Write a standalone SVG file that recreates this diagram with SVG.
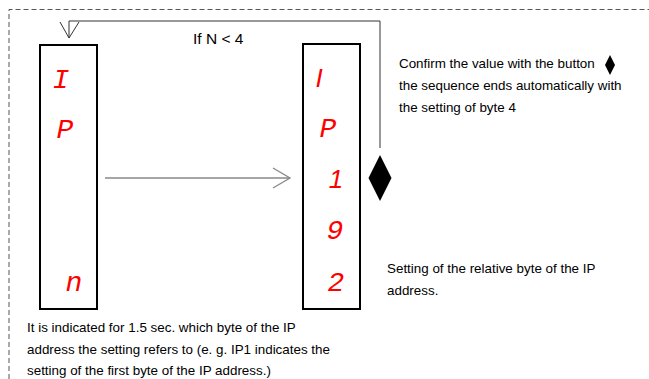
<svg xmlns="http://www.w3.org/2000/svg" width="649" height="379" viewBox="0 0 649 379">
<style>
.box{fill:none;stroke:#000;stroke-width:2}
.seg{fill:#ff0000;font-family:"Liberation Mono",monospace;font-style:italic;font-size:28px;text-anchor:middle}
.sans{font-family:"Liberation Sans",Arial,sans-serif;font-size:26px}
.txt{fill:#000;font-family:"Liberation Sans",Arial,sans-serif;font-size:13.4px}
.ln{fill:none;stroke:#333;stroke-width:1}
.arr{fill:none;stroke:#888;stroke-width:1.3}
</style>
<rect width="649" height="379" fill="#fff"/>
<path d="M9,379 V9.5 H649" fill="none" stroke="#555" stroke-width="1" stroke-dasharray="5,3"/>
<g id="connectors">
<polyline class="ln" points="380,148 380,21 69,21 69,38"/>
<polyline class="ln" points="60,22 69,38 79,22"/>
<line class="arr" x1="105" y1="178" x2="290" y2="178"/>
<polyline class="arr" points="273,168 290,178 273,188"/>
</g>
<g id="label-loop"><text class="txt" x="193" y="44" style="font-size:15.5px">If N &lt; 4</text></g>
<g id="display-left">
<rect class="box" x="40" y="45" width="57" height="264"/>
<text class="seg" x="61" y="88">I</text>
<text class="seg" x="65" y="138">P</text>
<text class="seg" x="74" y="291">n</text>
</g>
<g id="display-right">
<rect class="box" x="303" y="44" width="57" height="265"/>
<text class="seg sans" x="319" y="87">I</text>
<text class="seg" x="328" y="137">P</text>
<text class="seg sans" x="336" y="188">1</text>
<text class="seg" x="335" y="239">9</text>
<text class="seg" x="336" y="291">2</text>
</g>
<g id="button"><polygon points="380,155 391.5,178 380,201 368.5,178" fill="#000"/></g>
<g id="note-confirm">
<text class="txt" x="399" y="68">Confirm the value with the button</text>
<polygon points="610,55 615,65 610,75 605,65" fill="#000"/>
<text class="txt" x="399" y="90">the sequence ends automatically with</text>
<text class="txt" x="399" y="112">the setting of byte 4</text>
</g>
<g id="note-setting">
<text class="txt" x="387" y="273">Setting of the relative byte of the IP</text>
<text class="txt" x="387" y="295">address.</text>
</g>
<g id="note-indicated">
<text class="txt" x="27" y="332">It is indicated for 1.5 sec. which byte of the IP</text>
<text class="txt" x="27" y="354">address the setting refers to (e. g. IP1 indicates the</text>
<text class="txt" x="27" y="375">setting of the first byte of the IP address.)</text>
</g>
</svg>
